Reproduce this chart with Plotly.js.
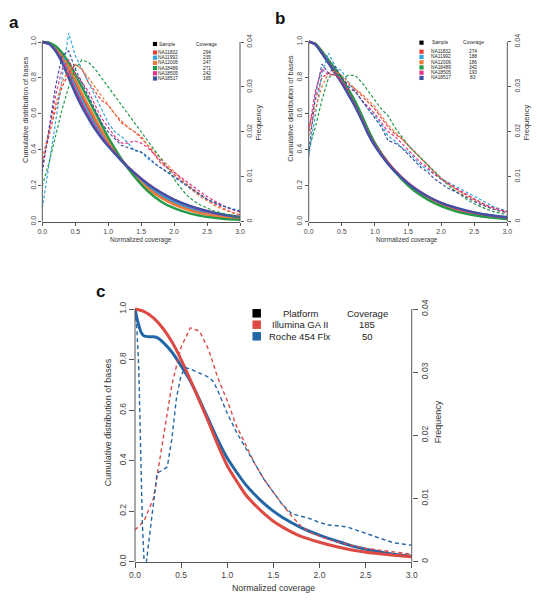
<!DOCTYPE html>
<html><head><meta charset="utf-8">
<script src="https://cdn.plot.ly/plotly-3.0.1.min.js"></script>
<style>html,body{margin:0;padding:0;background:#fff;}#chart{width:537px;height:601px;}</style>
</head><body><div id="chart"></div>
<script>
// ---------------- DATA ----------------
const sampleNames = ['NA11832','NA11992','NA12006','NA18489','NA18505','NA18517'];
const sampleColors = ['#E5403A','#2FA6DC','#EE7D3B','#23994A','#E5338A','#3F52A3'];
const coverageA = ['294','235','247','271','242','165'];
const coverageB = ['274','188','186','342','193','83'];

const xTickVals = [0,0.5,1.0,1.5,2.0,2.5,3.0];
const xTickText = ['0.0','0.5','1.0','1.5','2.0','2.5','3.0'];
const leftTickVals = [0,0.2,0.4,0.6,0.8,1.0];
const leftTickText = ['0.0','0.2','0.4','0.6','0.8','1.0'];
const rightTickVals = [0,0.01,0.02,0.03,0.04];
const rightTickText = ['0','0.01','0.02','0.03','0.04'];

// x grid for cumulative (solid) curves, panels a & b
const xCum = [0,0.1,0.2,0.3,0.4,0.5,0.6,0.7,0.8,0.9,1.0,1.2,1.4,1.6,1.8,2.0,2.25,2.5,2.75,3.0];
// x grid for frequency (dashed) curves, panels a & b
const xFreq = [0,0.1,0.2,0.3,0.4,0.5,0.6,0.7,0.8,0.9,1.0,1.1,1.2,1.3,1.4,1.5,1.6,1.7,1.8,1.9,2.0,2.1,2.2,2.3,2.4,2.5,2.6,2.7,2.8,2.9,3.0];

// Panel a cumulative
const cumA_NA11832 = [1,0.994,0.968,0.918,0.85,0.775,0.70,0.63,0.56,0.50,0.445,0.345,0.262,0.196,0.145,0.105,0.07,0.046,0.029,0.018];
const cumA_NA11992 = [1,0.99,0.96,0.905,0.83,0.75,0.675,0.605,0.54,0.48,0.43,0.34,0.265,0.203,0.152,0.112,0.077,0.052,0.034,0.022];
const cumA_NA12006 = [1,0.995,0.972,0.925,0.86,0.79,0.715,0.645,0.575,0.51,0.45,0.345,0.255,0.185,0.133,0.095,0.062,0.04,0.024,0.014];
const cumA_NA18489 = [1,0.997,0.978,0.94,0.885,0.82,0.75,0.68,0.61,0.54,0.47,0.35,0.25,0.17,0.113,0.075,0.045,0.027,0.016,0.01];
const cumA_NA18505 = [1,0.99,0.955,0.895,0.815,0.73,0.655,0.585,0.525,0.47,0.425,0.342,0.272,0.212,0.162,0.122,0.085,0.057,0.038,0.025];
const cumA_NA18517 = [1,0.99,0.95,0.885,0.80,0.715,0.64,0.575,0.515,0.465,0.42,0.34,0.27,0.21,0.162,0.123,0.087,0.06,0.04,0.026];
// Panel a frequency
const freqA_NA11832 = [0.013,0.019,0.025,0.030,0.033,0.035,0.034,0.031,0.029,0.027,0.026,0.024,0.022,0.021,0.020,0.019,0.017,0.015,0.013,0.012,0.0105,0.0093,0.0082,0.007,0.006,0.005,0.0041,0.0033,0.0026,0.002,0.0015];
const freqA_NA11992 = [0.003,0.012,0.022,0.032,0.042,0.037,0.034,0.031,0.028,0.025,0.022,0.020,0.019,0.0175,0.0158,0.0155,0.014,0.013,0.012,0.011,0.010,0.009,0.0078,0.0068,0.0058,0.005,0.0043,0.0037,0.0032,0.0028,0.0025];
const freqA_NA12006 = [0.014,0.020,0.026,0.031,0.034,0.035,0.034,0.032,0.030,0.028,0.026,0.024,0.0225,0.021,0.020,0.0185,0.017,0.0155,0.014,0.0125,0.011,0.0095,0.008,0.0067,0.0056,0.0046,0.0037,0.003,0.0024,0.0019,0.0015];
const freqA_NA18489 = [0.008,0.013,0.019,0.025,0.030,0.034,0.036,0.0355,0.034,0.032,0.030,0.028,0.026,0.024,0.022,0.020,0.018,0.016,0.014,0.012,0.0095,0.0075,0.0058,0.0046,0.0037,0.003,0.0024,0.002,0.0016,0.0013,0.001];
const freqA_NA18505 = [0.012,0.020,0.028,0.034,0.036,0.033,0.031,0.029,0.026,0.023,0.021,0.019,0.0175,0.0175,0.018,0.0175,0.0165,0.015,0.0135,0.012,0.011,0.0098,0.0088,0.0077,0.0066,0.0056,0.0047,0.0039,0.0032,0.0026,0.0021];
const freqA_NA18517 = [0.011,0.020,0.030,0.037,0.038,0.034,0.031,0.028,0.025,0.022,0.020,0.0185,0.017,0.0165,0.016,0.0155,0.0145,0.013,0.012,0.011,0.010,0.009,0.008,0.007,0.006,0.005,0.0043,0.0037,0.0032,0.0027,0.0023];

// Panel b cumulative
const cumB_NA11832 = [1,0.986,0.94,0.888,0.835,0.78,0.718,0.653,0.578,0.50,0.432,0.327,0.246,0.182,0.134,0.098,0.066,0.045,0.03,0.02];
const cumB_NA11992 = [1,0.985,0.938,0.885,0.83,0.775,0.712,0.648,0.573,0.495,0.428,0.325,0.245,0.183,0.136,0.10,0.069,0.047,0.032,0.022];
const cumB_NA12006 = [1,0.987,0.943,0.892,0.84,0.786,0.724,0.658,0.582,0.503,0.434,0.327,0.244,0.179,0.131,0.095,0.063,0.042,0.028,0.019];
const cumB_NA18489 = [1,0.988,0.947,0.898,0.848,0.795,0.735,0.67,0.593,0.51,0.437,0.325,0.238,0.17,0.122,0.086,0.055,0.036,0.023,0.015];
const cumB_NA18505 = [1,0.985,0.937,0.883,0.828,0.773,0.71,0.645,0.57,0.49,0.425,0.325,0.248,0.187,0.14,0.104,0.072,0.05,0.034,0.023];
const cumB_NA18517 = [1,0.985,0.935,0.88,0.825,0.77,0.705,0.64,0.565,0.485,0.42,0.32,0.245,0.185,0.14,0.105,0.075,0.052,0.036,0.025];
// Panel b frequency
const freqB_NA11832 = [0.0205,0.027,0.032,0.033,0.0325,0.032,0.0305,0.0295,0.028,0.0265,0.025,0.023,0.021,0.0195,0.0185,0.017,0.0155,0.014,0.0125,0.011,0.0095,0.0085,0.0075,0.0066,0.0058,0.005,0.0043,0.0036,0.0031,0.0026,0.0022];
const freqB_NA11992 = [0.0145,0.024,0.033,0.0375,0.0345,0.0335,0.031,0.029,0.027,0.025,0.0235,0.0215,0.019,0.018,0.0165,0.0155,0.014,0.0125,0.0115,0.0105,0.0095,0.0088,0.008,0.0072,0.0064,0.0056,0.0048,0.004,0.0033,0.0028,0.0024];
const freqB_NA12006 = [0.019,0.025,0.030,0.033,0.0335,0.0325,0.031,0.0295,0.0285,0.027,0.0255,0.0235,0.0215,0.020,0.0185,0.017,0.0155,0.014,0.0125,0.011,0.0097,0.0085,0.0074,0.0064,0.0055,0.0047,0.004,0.0033,0.0028,0.0023,0.0019];
const freqB_NA18489 = [0.016,0.021,0.027,0.032,0.033,0.032,0.0325,0.0325,0.031,0.029,0.027,0.025,0.0235,0.021,0.019,0.017,0.0155,0.014,0.0125,0.011,0.0095,0.0082,0.007,0.0058,0.0048,0.004,0.0033,0.0027,0.0022,0.0018,0.0015];
const freqB_NA18505 = [0.020,0.029,0.034,0.0325,0.033,0.031,0.0295,0.029,0.027,0.0255,0.024,0.022,0.020,0.019,0.0175,0.016,0.0145,0.013,0.012,0.0105,0.0095,0.0085,0.0077,0.0068,0.006,0.005,0.0042,0.0035,0.003,0.0026,0.0022];
const freqB_NA18517 = [0.015,0.028,0.035,0.033,0.0345,0.032,0.030,0.029,0.027,0.025,0.023,0.021,0.018,0.0175,0.0165,0.015,0.0135,0.012,0.011,0.0095,0.0085,0.0075,0.0068,0.006,0.0052,0.0045,0.0038,0.0032,0.0027,0.0023,0.002];

// Panel c
const platforms = ['Illumina GA II','Roche 454 Flx'];
const platformColors = ['#DD4A44','#2366A8'];
const platformCoverage = ['185','50'];
const xCumIllumina = [0,0.1,0.2,0.3,0.4,0.5,0.6,0.7,0.8,0.9,1.0,1.1,1.2,1.3,1.4,1.5,1.6,1.8,2.0,2.2,2.4,2.6,2.8,3.0];
const cumIllumina = [1.0,0.99,0.965,0.925,0.87,0.80,0.72,0.635,0.55,0.46,0.38,0.32,0.265,0.225,0.19,0.16,0.137,0.10,0.077,0.058,0.043,0.033,0.026,0.02];
const xCumRoche = [0,0.03,0.07,0.1,0.15,0.2,0.25,0.3,0.4,0.5,0.6,0.7,0.8,0.9,1.0,1.1,1.2,1.3,1.4,1.5,1.6,1.8,2.0,2.2,2.4,2.6,2.8,3.0];
const cumRoche = [1.0,0.95,0.905,0.893,0.89,0.89,0.885,0.87,0.83,0.775,0.715,0.64,0.56,0.48,0.41,0.355,0.305,0.265,0.23,0.20,0.175,0.135,0.105,0.08,0.058,0.042,0.03,0.022];
const xFreqIllumina = xFreq;
const freqIllumina = [0.005,0.0065,0.01,0.019,0.028,0.034,0.037,0.0365,0.0335,0.029,0.0255,0.0215,0.0185,0.0155,0.013,0.011,0.009,0.0072,0.0056,0.0046,0.004,0.0035,0.0031,0.0027,0.0024,0.0021,0.0019,0.0017,0.0015,0.0013,0.0012];
const xFreqRoche = [0,0.02,0.04,0.06,0.08,0.1,0.12,0.14,0.17,0.2,0.24,0.3,0.35,0.4,0.45,0.5,0.55,0.6,0.7,0.8,0.85,0.9,1.0,1.1,1.2,1.3,1.4,1.5,1.6,1.7,1.8,1.9,2.0,2.1,2.2,2.3,2.4,2.5,2.6,2.7,2.8,2.9,3.0];
const freqRoche = [0.0398,0.037,0.031,0.02,0.006,-0.0005,-0.0005,0.002,0.0055,0.009,0.014,0.0145,0.015,0.0195,0.026,0.0295,0.0307,0.0305,0.0298,0.0292,0.0285,0.027,0.0235,0.0205,0.018,0.0155,0.013,0.011,0.009,0.0076,0.0072,0.0068,0.0062,0.0058,0.0057,0.0055,0.005,0.0045,0.004,0.0034,0.003,0.0028,0.0026];

// ---------------- LAYOUT HELPERS ----------------
const W = 537, H = 601, EXT = 1.08;
const FONT = 'Liberation Sans, Arial, sans-serif';
const AX = '#555', TXT = '#333';
const fx = p => p / W, fy = p => 1 - p / H;

const panels = [
  {id:'a', xa:'x',  yl:'y',  yr:'y2', x0:42.3, x1:240,   yTop:42,  yBot:221.7, tf:7, tl:3, lw:2.4, dw:1.2, dash:'3px,2px', ttf:6.5, ytf:7.5,
   letter:[13.7,23], xTitle:[141,240], lTitle:[25,110], rTitle:[258.3,122]},
  {id:'b', xa:'x2', yl:'y3', yr:'y4', x0:308.7, x1:507.3, yTop:41.7, yBot:221.7, tf:7, tl:3, lw:2.4, dw:1.2, dash:'3px,2px', ttf:6.5, ytf:7.5,
   letter:[279.7,19], xTitle:[407,240], lTitle:[289.7,108], rTitle:[526.3,122]},
  {id:'c', xa:'x3', yl:'y5', yr:'y6', x0:135, x1:411.7, yTop:309, yBot:561.7, tf:8.5, tl:5, lw:3, dw:1.4, dash:'4px,3px', ttf:8.8, ytf:9,
   letter:[100,291], xTitle:[273,587.7], lTitle:[108.3,422], rTitle:[438.3,422]}
];

const layout = {
  width: W, height: H, margin:{l:0,r:0,t:0,b:0}, paper_bgcolor:'#fff', plot_bgcolor:'rgba(0,0,0,0)',
  showlegend:false, font:{family:FONT, color:TXT}, shapes:[], annotations:[]
};
const axName = ref => ref.replace('x','xaxis').replace('y','yaxis');

panels.forEach(p => {
  const yTopExt = p.yBot - EXT * (p.yBot - p.yTop);
  const dom = [fy(p.yBot), fy(yTopExt)];
  const common = {showgrid:false, zeroline:false, ticks:'outside', ticklen:p.tl, tickwidth:1, tickcolor:AX,
                  tickfont:{size:p.tf, color:'#444', family:FONT}, fixedrange:true};
  layout[axName(p.xa)] = Object.assign({}, common, {domain:[fx(p.x0), fx(p.x1)], range:[0,3], anchor:p.yl,
      showline:true, linecolor:AX, linewidth:1, tickvals:xTickVals, ticktext:xTickText});
  layout[axName(p.yl)] = Object.assign({}, common, {domain:dom, range:[0,EXT], anchor:p.xa, showline:false,
      tickvals:leftTickVals, ticktext:leftTickText, tickangle:-90});
  layout[axName(p.yr)] = Object.assign({}, common, {range:[0,0.04*EXT], anchor:p.xa, overlaying:p.yl, side:'right',
      showline:false, tickvals:rightTickVals, ticktext:rightTickText, tickangle:-90});
  // axis lines (0..1 only, like the original)
  [0,1].forEach(side => layout.shapes.push({type:'line', xref:p.xa+' domain', yref:p.yl, x0:side, x1:side, y0:0, y1:1,
      line:{color:AX, width:1}}));
  // titles
  const ann = (x,y,text,size,angle,extra) => layout.annotations.push(Object.assign({xref:'paper', yref:'paper',
      x:fx(x), y:fy(y), text:text, showarrow:false, xanchor:'center', yanchor:'middle', textangle:angle||0,
      font:{size:size, color:TXT, family:FONT}}, extra||{}));
  ann(p.xTitle[0], p.xTitle[1], 'Normalized coverage', p.ttf);
  ann(p.lTitle[0], p.lTitle[1], 'Cumulative distribution of bases', p.ytf, -90);
  ann(p.rTitle[0], p.rTitle[1], 'Frequency', p.ytf, -90);
  ann(p.letter[0], p.letter[1], '<b>'+p.id+'</b>', 17, 0, {font:{size:17, color:'#111', family:FONT}});
});

// ---------------- TRACES ----------------
const traces = [];
const cumA = [cumA_NA11832,cumA_NA11992,cumA_NA12006,cumA_NA18489,cumA_NA18505,cumA_NA18517];
const freqA = [freqA_NA11832,freqA_NA11992,freqA_NA12006,freqA_NA18489,freqA_NA18505,freqA_NA18517];
const cumB = [cumB_NA11832,cumB_NA11992,cumB_NA12006,cumB_NA18489,cumB_NA18505,cumB_NA18517];
const freqB = [freqB_NA11832,freqB_NA11992,freqB_NA12006,freqB_NA18489,freqB_NA18505,freqB_NA18517];
// dashed first (under), then solid
[[panels[0],cumA,freqA],[panels[1],cumB,freqB]].forEach(([p,cum,freq]) => {
  freq.forEach((f,i) => traces.push({x:xFreq, y:f, xaxis:p.xa, yaxis:p.yr, mode:'lines', hoverinfo:'skip',
      line:{color:sampleColors[i], width:p.dw, dash:p.dash}}));
  cum.forEach((c,i) => traces.push({x:xCum, y:c, xaxis:p.xa, yaxis:p.yl, mode:'lines', hoverinfo:'skip',
      line:{color:sampleColors[i], width:p.lw, shape:'spline', smoothing:0.6}}));
});
const pc = panels[2];
[[xFreqIllumina,freqIllumina,0],[xFreqRoche,freqRoche,1]].forEach(([x,y,i]) => traces.push({x:x, y:y, xaxis:pc.xa, yaxis:pc.yr,
   mode:'lines', hoverinfo:'skip', line:{color:platformColors[i], width:pc.dw, dash:pc.dash}}));
[[xCumRoche,cumRoche,1],[xCumIllumina,cumIllumina,0]].forEach(([x,y,i]) => traces.push({x:x, y:y, xaxis:pc.xa, yaxis:pc.yl,
   mode:'lines', hoverinfo:'skip', line:{color:platformColors[i], width:pc.lw, shape:'spline', smoothing:0.6}}));

// ---------------- LEGENDS ----------------
function legend(cfg, header1, names, covs, colors) {
  const rows = [{name:header1, cov:'Coverage', color:'#000', y:cfg.headerY}]
    .concat(names.map((n,i) => ({name:n, cov:covs[i], color:colors[i], y:cfg.rowY0 + i*cfg.dy})));
  rows.forEach(r => {
    const h = cfg.sq/2;
    layout.shapes.push({type:'rect', xref:'paper', yref:'paper', x0:fx(cfg.sqX-h), x1:fx(cfg.sqX+h),
      y0:fy(r.y+h), y1:fy(r.y-h), fillcolor:r.color, line:{width:0}});
    [[cfg.nameX, r.name],[cfg.covX, r.cov]].forEach(([x,t]) => layout.annotations.push({xref:'paper', yref:'paper',
      x:fx(x), y:fy(r.y), text:t, showarrow:false, xanchor:'center', yanchor:'middle', borderpad:0,
      font:{size:cfg.fs, color:'#222', family:FONT}}));
  });
}
legend({sqX:155, sq:4.2, nameX:167.5, covX:206.7, headerY:44, rowY0:52.5, dy:5.2, fs:4.8}, 'Sample', sampleNames, coverageA, sampleColors);
legend({sqX:421.5, sq:4.2, nameX:440.5, covX:473.3, headerY:42.7, rowY0:51.7, dy:5.25, fs:4.8}, 'Sample', sampleNames, coverageB, sampleColors);
legend({sqX:256.7, sq:8.5, nameX:300, covX:367, headerY:313.3, rowY0:324.7, dy:11.6, fs:9.5}, 'Platform', platforms, platformCoverage, platformColors);

Plotly.newPlot('chart', traces, layout, {staticPlot:true, displayModeBar:false});
</script></body></html>
